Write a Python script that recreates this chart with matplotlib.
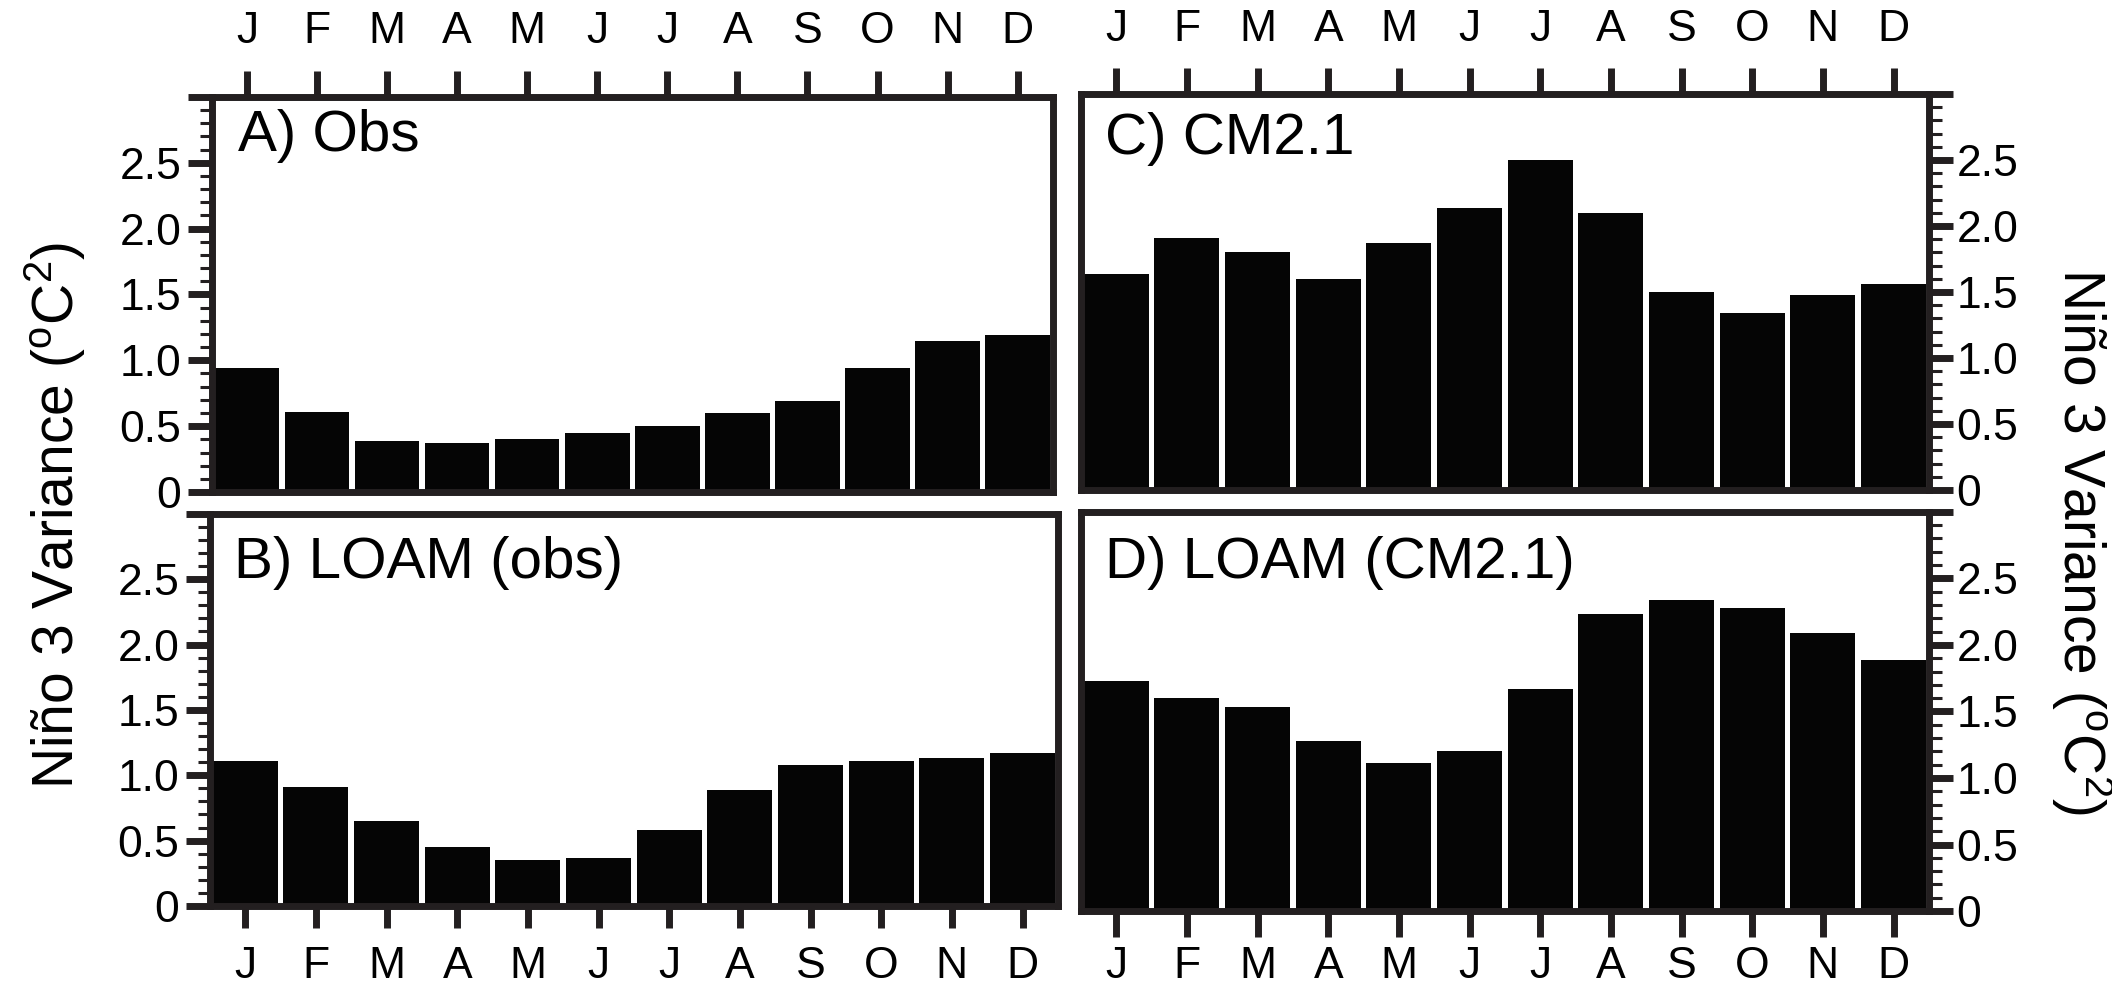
import numpy as np
import matplotlib
matplotlib.use("Agg")
import matplotlib.pyplot as plt
from matplotlib.ticker import FixedLocator, FixedFormatter, MultipleLocator

plt.rcParams['font.family'] = ['Liberation Sans', 'DejaVu Sans']
plt.rcParams['mathtext.fontset'] = 'custom'
plt.rcParams['mathtext.rm'] = 'Liberation Sans'
plt.rcParams['mathtext.it'] = 'Liberation Sans:italic'

# monthly Nino3 SST variance (degC^2)
months = ['J', 'F', 'M', 'A', 'M', 'J', 'J', 'A', 'S', 'O', 'N', 'D']
obs = [0.94, 0.61, 0.39, 0.375, 0.40, 0.45, 0.50, 0.60, 0.69, 0.94, 1.145, 1.19]
loam_obs = [1.11, 0.91, 0.65, 0.45, 0.355, 0.37, 0.58, 0.89, 1.08, 1.11, 1.13, 1.17]
cm21 = [1.64, 1.91, 1.80, 1.60, 1.87, 2.14, 2.50, 2.10, 1.50, 1.34, 1.48, 1.56]
loam_cm21 = [1.73, 1.60, 1.53, 1.28, 1.11, 1.20, 1.67, 2.23, 2.34, 2.28, 2.09, 1.89]

ytick_vals = [0, 0.5, 1.0, 1.5, 2.0, 2.5, 3.0]
ytick_text = ['0', '0.5', '1.0', '1.5', '2.0', '2.5', '']

edge = '#231f20'
fig = plt.figure(figsize=(21.12, 9.88), dpi=100)


def panel(rect, vals, label, top, right, lab_off, xlen, xpad):
    ax = fig.add_axes(rect)
    x = np.arange(len(months))
    ax.bar(x, vals, width=0.92, color='#050505')
    ax.set_xlim(-0.5, 11.5)
    ax.set_ylim(0, 3.0)
    for s in ax.spines.values():
        s.set_linewidth(5)
        s.set_color(edge)

    ax.set_xticks(x)
    ax.set_xticklabels(months)
    ax.tick_params(axis='x', length=xlen, width=5, color=edge, labelsize=32,
                   pad=xpad, top=top, bottom=not top,
                   labeltop=top, labelbottom=not top)

    ax.yaxis.set_major_locator(FixedLocator(ytick_vals))
    ax.yaxis.set_major_formatter(FixedFormatter(ytick_text))
    ax.yaxis.set_minor_locator(MultipleLocator(0.1))
    ax.tick_params(axis='y', which='major', length=17, width=5, color=edge,
                   labelsize=32, pad=5 if not right else 3)
    ax.tick_params(axis='y', which='minor', length=9, width=2.2, color=edge)
    ax.tick_params(axis='y', which='both', left=not right, right=right,
                   labelleft=not right, labelright=right)

    ax.annotate(label, xy=(0, 1), xycoords='axes fraction',
                xytext=lab_off, textcoords='offset pixels',
                ha='left', va='top', fontsize=42)
    return ax


panel([0.1004, 0.502, 0.398, 0.400], obs, 'A) Obs', True, False, (26, -12), 19, 13)
panel([0.5118, 0.504, 0.4015, 0.4008], cm21, 'C) CM2.1', True, True, (24, -18), 19, 13)
panel([0.0994, 0.083, 0.4015, 0.397], loam_obs, 'B) LOAM (obs)', False, False, (24, -22), 16, 12.5)
panel([0.5118, 0.0779, 0.4015, 0.404], loam_cm21, 'D) LOAM (CM2.1)', False, True, (24, -24), 19, 6.5)

ylab = r'Niño 3 Variance ($^{\mathrm{o}}$C$^{2}$)'
fig.text(55 / 2112, 1 - 515 / 988, ylab, rotation=90, ha='center', va='center', fontsize=41)
fig.text(2082 / 2112, 1 - 542 / 988, ylab, rotation=270, ha='center', va='center', fontsize=41)

fig.savefig('out.png', dpi=100)
